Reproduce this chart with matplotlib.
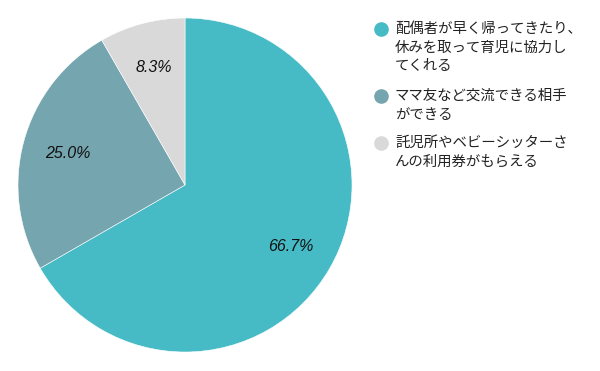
import matplotlib
matplotlib.use("Agg")
import matplotlib.pyplot as plt
from matplotlib.lines import Line2D

categories = [
    "配偶者が早く帰ってきたり、\n休みを取って育児に協力し\nてくれる",
    "ママ友など交流できる相手\nができる",
    "託児所やベビーシッターさ\nんの利用券がもらえる",
]
values = [66.7, 25.0, 8.3]
colors = ["#46BBC6", "#75A5AE", "#D9D9D9"]

W, H = 600, 371
fig = plt.figure(figsize=(W / 100, H / 100), dpi=100)
cx, cy, r = 185, 185, 167
ax = fig.add_axes([(cx - r) / W, (H - cy - r) / H, 2 * r / W, 2 * r / H])
wedges, texts, autotexts = ax.pie(
    values, colors=colors, startangle=90, counterclock=False,
    autopct="%.1f%%", pctdistance=0.73,
    wedgeprops=dict(edgecolor="white", linewidth=0.4),
    textprops=dict(family="Liberation Sans", style="italic", fontsize=11.5, color="#111111"),
)
ax.set_aspect("equal")
ax.set_xlim(-1, 1)
ax.set_ylim(-1, 1)
ax.axis("off")

# legend
mx, tx = 381, 395
item_tops = [29, 96, 143]
lh = 18.5
for cat, col, y0 in zip(categories, colors, item_tops):
    fig.add_artist(Line2D([mx / W], [1 - y0 / H], marker="o", markersize=9.5,
                          color=col, linestyle="none", transform=fig.transFigure))
    for i, line in enumerate(cat.split("\n")):
        fig.text(tx / W, 1 - (y0 + i * lh) / H, line, ha="left", va="center",
                 fontsize=10.4, family=["Noto Sans CJK JP", "DejaVu Sans"], color="#222222")

fig.savefig("out.png", dpi=100)
